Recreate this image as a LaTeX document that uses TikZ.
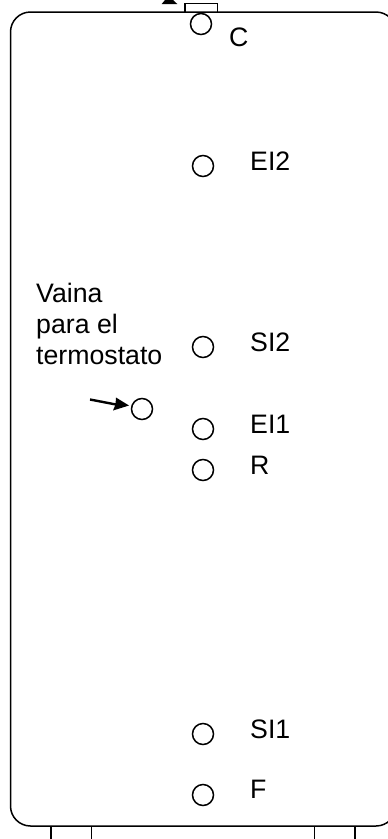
\documentclass[tikz,border=0pt]{standalone}
\usepackage{fontspec}
\setmainfont{Liberation Sans}
\begin{document}
\begin{tikzpicture}[x=1pt,y=-1pt,
  ln/.style={draw=black,line width=1.5pt},
  port/.style={circle,draw=black,line width=1.5pt,minimum size=21pt,inner sep=0pt},
  lab/.style={font=\fontsize{26.7}{31}\selectfont,anchor=base west,inner sep=0pt}]
\useasboundingbox (0,0) rectangle (388,839);
\clip (0,0) rectangle (388,839);
\draw[ln,rounded corners=20pt] (10.5,12) rectangle (396,826);
\fill[black] (161.7,4) -- (165,0) -- (173,0) -- (177.3,4) -- cycle;
\draw[ln] (185,12) -- (185,3.5) -- (217.5,3.5) -- (217.5,12);
\foreach \x in {51,91.5,314.5,355} \draw[ln] (\x,826) -- (\x,839);
\node[port] (c) at (201,24) {};
\node[port] (ei2) at (203,166) {};
\node[port] (si2) at (203,347) {};
\node[port] (ei1) at (203,429) {};
\node[port] (r) at (203,470) {};
\node[port] (si1) at (203,734) {};
\node[port] (f) at (203,795) {};
\node[port] (th) at (142,409) {};
\node[lab] at (229,46) {C};
\node[lab] at (250,170) {EI2};
\node[lab] at (250,351) {SI2};
\node[lab] at (250,433) {EI1};
\node[lab] at (250,474) {R};
\node[lab] at (250,738) {SI1};
\node[lab] at (250,798) {F};
\node[lab] at (36,302) {Vaina};
\node[lab] at (36,333) {para el};
\node[lab] at (36,364) {termostato};
\coordinate (a) at (90,399.5);
\draw[line width=2.4pt] (a) -- (116,404.5);
\fill[black] (129,405.5) -- (113,410.5) -- (115.5,404.5) -- (116,397.5) -- cycle;
\end{tikzpicture}
\end{document}
